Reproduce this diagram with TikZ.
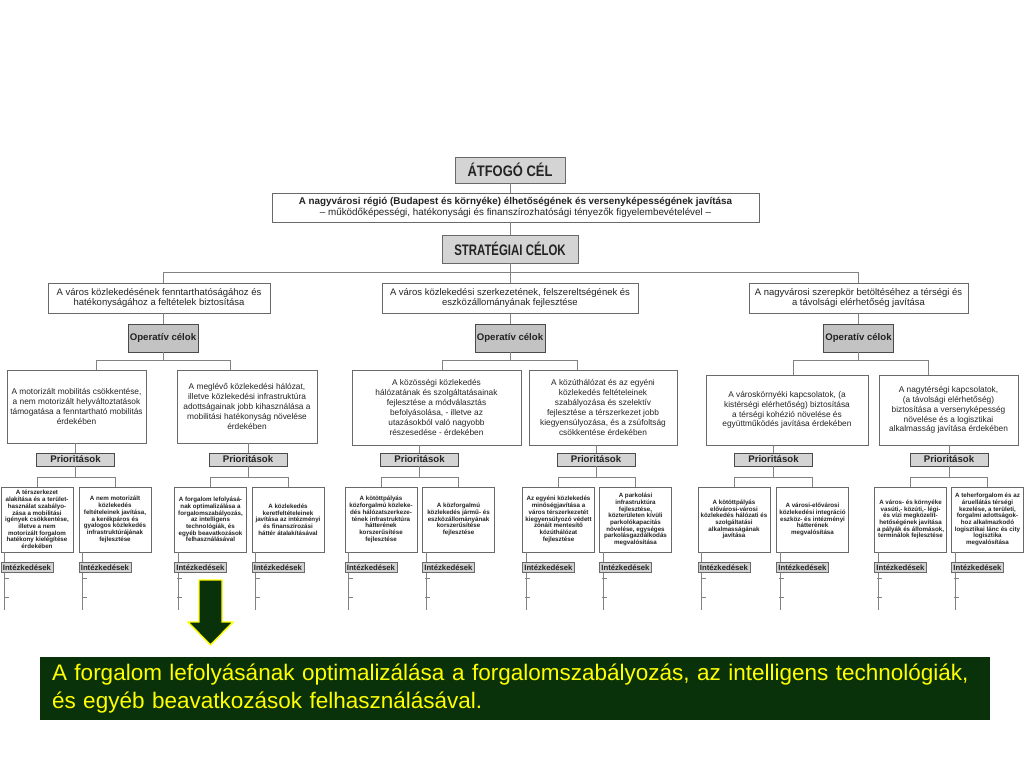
\documentclass[tikz,border=0pt]{standalone}
\usepackage{fontspec}
\setmainfont{Liberation Sans}
\newfontfamily\headfont[FakeStretch=0.85]{Liberation Sans}
\newfontfamily\stratfont[FakeStretch=0.75]{Liberation Sans}
\usetikzlibrary{calc}
\definecolor{boxgray}{RGB}{105,105,105}
\definecolor{linegray}{RGB}{130,130,130}
\definecolor{fillgray}{RGB}{212,212,212}
\definecolor{txtdark}{RGB}{35,35,35}
\definecolor{darkgreen}{RGB}{10,50,10}
\definecolor{myyellow}{RGB}{255,255,0}
\tikzset{
  sz/.style n args={2}{minimum width=#1*0.03cm, minimum height=#2*0.03cm},
  ttl/.style={draw=boxgray, fill=fillgray, inner sep=0pt, text=txtdark,
              font=\headfont\bfseries\fontsize{13}{15}\selectfont},
  gbox/.style={draw=boxgray, fill=white, inner sep=0pt, align=center,
               text=txtdark, line width=0.5pt},
  opb/.style={draw=boxgray!70!black, fill=fillgray!92!black, inner sep=0pt,
              sz={70}{28}, text=txtdark, font=\bfseries\fontsize{8.2}{10}\selectfont},
  prb/.style={draw=boxgray!70!black, fill=fillgray, inner sep=0pt,
              sz={78}{13}, text=txtdark, font=\bfseries\fontsize{8.2}{10}\selectfont},
  ln/.style={draw=linegray, line width=0.6pt},
}

\begin{document}
\begin{tikzpicture}[x=0.03cm, y=-0.03cm,
      sbox/.style={gbox, font=\fontsize{8.1}{9.2}\selectfont},
      obox/.style={gbox, font=\fontsize{7.1}{8.4}\selectfont},
      pbox/.style={gbox, sz={72}{65}, font=\bfseries\fontsize{5.3}{5.75}\selectfont},
      ibx/.style ={draw=boxgray, fill=fillgray, inner sep=0pt, sz={52}{10},
                   anchor=north west, text=txtdark,
                   font=\bfseries\fontsize{6.6}{8}\selectfont},
      banner/.style={fill=darkgreen, text=myyellow, align=left,
                     text width=926*0.03cm, inner xsep=12*0.03cm, inner ysep=0pt,
                     minimum height=63*0.03cm,
                     font=\fontsize{19.2}{23.5}\selectfont}]
    \useasboundingbox[fill=white] (0,0) rectangle (1024,768);

    % ── TOP ─────────────────────────────────────────────────
    \node[ttl, sz={110}{26}] (cel) at (510,170) {ÁTFOGÓ CÉL};
    \node[gbox, sz={487}{29}, font=\fontsize{8.4}{10}\selectfont] (goal) at (515.5,207.5)
      {\textbf{A nagyvárosi régió (Budapest és környéke) élhetőségének és versenyképességének javítása}\\
       – működőképességi, hatékonysági és finanszírozhatósági tényezők figyelembevételével –};
    \node[ttl, sz={136}{28}, font=\stratfont\bfseries\fontsize{13}{15}\selectfont] (strat) at (510,249)
      {STRATÉGIAI CÉLOK};
    \draw[ln] (cel.south) -- (cel.south |- goal.north);
    \draw[ln] (goal.south -| strat) -- (strat.north);

    % ── STRATEGIC GOALS ─────────────────────────────────────
    \node[sbox, sz={222}{30}] (sA) at (159,298)
      {A város közlekedésének fenntarthatóságához és\\hatékonyságához a feltételek biztosítása};
    \node[sbox, sz={256}{30}] (sB) at (510,298)
      {A város közlekedési szerkezetének, felszereltségének és\\eszközállományának fejlesztése};
    \node[sbox, sz={219}{30}] (sC) at (858.5,298)
      {A nagyvárosi szerepkör betöltéséhez a térségi és\\a távolsági elérhetőség javítása};

    % ── OPERATIVE GOALS ─────────────────────────────────────
    \node[opb] (opA) at (163,338) {Operatív célok};
    \node[opb] (opB) at (510,338) {Operatív célok};
    \node[opb] (opC) at (858.5,338) {Operatív célok};

    \node[obox, sz={139}{73}] (oA) at (76.5,406.5)
      {A motorizált mobilitás csökkentése,\\a nem motorizált helyváltoztatások\\támogatása a fenntartható mobilitás\\érdekében};
    \node[obox, sz={140}{73}] (oB) at (247,406.5)
      {A meglévő közlekedési hálózat,\\illetve közlekedési infrastruktúra\\adottságainak jobb kihasználása a\\mobilitási hatékonyság növelése\\érdekében};
    \node[obox, sz={169}{75}] (oC) at (436.5,407.5)
      {A közösségi közlekedés\\hálózatának és szolgáltatásainak\\fejlesztése a módválasztás\\befolyásolása, - illetve az\\utazásokból való nagyobb\\részesedése - érdekében};
    \node[obox, sz={148}{75}] (oD) at (603,407.5)
      {A közúthálózat és az egyéni\\közlekedés feltételeinek\\szabályozása és szelektív\\fejlesztése a térszerkezet jobb\\kiegyensúlyozása, és a zsúfoltság\\csökkentése érdekében};
    \node[obox, sz={162}{70}] (oE) at (787,410)
      {A városkörnyéki kapcsolatok, (a\\kistérségi elérhetőség) biztosítása\\a térségi kohézió növelése és\\együttműködés javítása érdekében};
    \node[obox, sz={139}{70}] (oF) at (948.5,410)
      {A nagytérségi kapcsolatok,\\(a távolsági elérhetőség)\\biztosítása a versenyképesség\\növelése és a logisztikai\\alkalmasság javítása érdekében};

    % ── PRIORITIES ──────────────────────────────────────────
    \node[prb] (pA) at (75.5,459.5) {Prioritások};
    \node[prb] (pB) at (248,459.5) {Prioritások};
    \node[prb] (pC) at (419.5,459.5) {Prioritások};
    \node[prb] (pD) at (596,459.5) {Prioritások};
    \node[prb] (pE) at (773.5,459.5) {Prioritások};
    \node[prb] (pF) at (949,459.5) {Prioritások};

    \node[pbox] (a1) at (37,519.5)
      {A térszerkezet\\alakítása és a terület-\\használat szabályo-\\zása a mobilitási\\igények csökkentése,\\illetve a nem\\motorizált forgalom\\hatékony kielégítése\\érdekében};
    \node[pbox] (a2) at (115,519.5)
      {A nem motorizált\\közlekedés\\feltételeinek javítása,\\a kerékpáros és\\gyalogos közlekedés\\infrastruktúrájának\\fejlesztése};
    \node[pbox] (b1) at (210.5,519.5)
      {A forgalom lefolyásá-\\nak optimalizálása a\\forgalomszabályozás,\\az intelligens\\technológiák, és\\egyéb beavatkozások\\felhasználásával};
    \node[pbox] (b2) at (288,519.5)
      {A közlekedés\\keretfeltételeinek\\javítása az intézményi\\és finanszírozási\\háttér átalakításával};
    \node[pbox] (c1) at (381,519.5)
      {A kötöttpályás\\közforgalmú közleke-\\dés hálózatszerkeze-\\tének infrastruktúra\\hátterének\\korszerűsítése\\fejlesztése};
    \node[pbox] (c2) at (458.5,519.5)
      {A közforgalmú\\közlekedés jármű- és\\eszközállományának\\korszerűsítése\\fejlesztése};
    \node[pbox] (d1) at (558.5,519.5)
      {Az egyéni közlekedés\\minőségjavítása a\\város térszerkezetét\\kiegyensúlyozó védett\\zónáit mentesítő\\közúthálózat\\fejlesztése};
    \node[pbox] (d2) at (635.5,519.5)
      {A parkolási\\infrastruktúra\\fejlesztése,\\közterületen kívüli\\parkolókapacitás\\növelése, egységes\\parkolásgazdálkodás\\megvalósítása};
    \node[pbox] (e1) at (734,519.5)
      {A kötöttpályás\\elővárosi-városi\\közlekedés hálózati és\\szolgáltatási\\alkalmasságának\\javítása};
    \node[pbox] (e2) at (812.5,519.5)
      {A városi-elővárosi\\közlekedési integráció\\eszköz- és intézményi\\hátterének\\megvalósítása};
    \node[pbox] (f1) at (910.5,519.5)
      {A város- és környéke\\vasúti,- közúti,- légi-\\és vízi megközelít-\\hetőségének javítása\\a pályák és állomások,\\terminálok fejlesztése};
    \node[pbox] (f2) at (987.5,519.5)
      {A teherforgalom és az\\áruellátás térségi\\kezelése, a területi,\\forgalmi adottságok-\\hoz alkalmazkodó\\logisztikai lánc és city\\logisztika\\megvalósítása};

    % ── CONNECTORS ──────────────────────────────────────────
    \draw[ln] (strat.south) -- (sB.north);
    \draw[ln] (sA.north -| opA) |- ($(strat.south)+(0,9)$) -| (sC.north -| opC);
    \draw[ln] (sA.south -| opA) -- (opA.north);
    \draw[ln] (sB.south -| opB) -- (opB.north);
    \draw[ln] (sC.south -| opC) -- (opC.north);
    % operative goals
    \draw[ln] (opA.south) -- ++(0,8);
    \draw[ln] ($(oA.north)+(19.5,0)$) |- ($(opA.south)+(0,8)$) -| ($(oB.north)+(-17,0)$);
    \draw[ln] (opB.south) -- ++(0,8);
    \draw[ln] ($(oC.north)+(5.5,0)$) |- ($(opB.south)+(0,8)$) -| ($(oD.north)+(-26,0)$);
    \draw[ln] (opC.south) -- ++(0,8);
    \draw[ln] ($(oE.north)+(6,0)$) |- ($(opC.south)+(0,8)$) -| ($(oF.north)+(-20.5,0)$);
    % priorities
    \foreach \o/\p/\l/\r in {oA/pA/a1/a2, oB/pB/b1/b2, oC/pC/c1/c2,
                             oD/pD/d1/d2, oE/pE/e1/e2, oF/pF/f1/f2}{
      \draw[ln] (\p.north |- \o.south) -- (\p.north);
      \draw[ln] (\p.south) -- ++(0,11);
      \draw[ln] (\l.north) |- ($(\p.south)+(0,11)$) -| (\r.north);
    }

    % ── MEASURES ────────────────────────────────────────────
    \foreach \b in {a1,a2,b1,b2,c1,c2,d1,d2,e1,e2,f1,f2}{
      \draw[ln] ($(\b.south west)+(4,0)$) -- ++(0,58);
      \draw[ln] ($(\b.south west)+(3,26)$) -- ++(5,0);
      \draw[ln] ($(\b.south west)+(3,45)$) -- ++(5,0);
      \node[ibx] (i\b) at ($(\b.south west)+(0,10)$) {Intézkedések};
    }

    % ── HIGHLIGHT ───────────────────────────────────────────
    \filldraw[fill=darkgreen, draw=myyellow, line width=1.2pt, line join=miter]
      (199,580) -- (222,580) -- (222,622) -- (233,622) -- (210.5,645)
      -- (188,622) -- (199,622) -- cycle;
    \node[banner] (note) at (515,688.5)
      {A forgalom lefolyásának optimalizálása a forgalomszabályozás, az intelligens technológiák,\\
       és egyéb beavatkozások felhasználásával.};
  \end{tikzpicture}
\end{document}
